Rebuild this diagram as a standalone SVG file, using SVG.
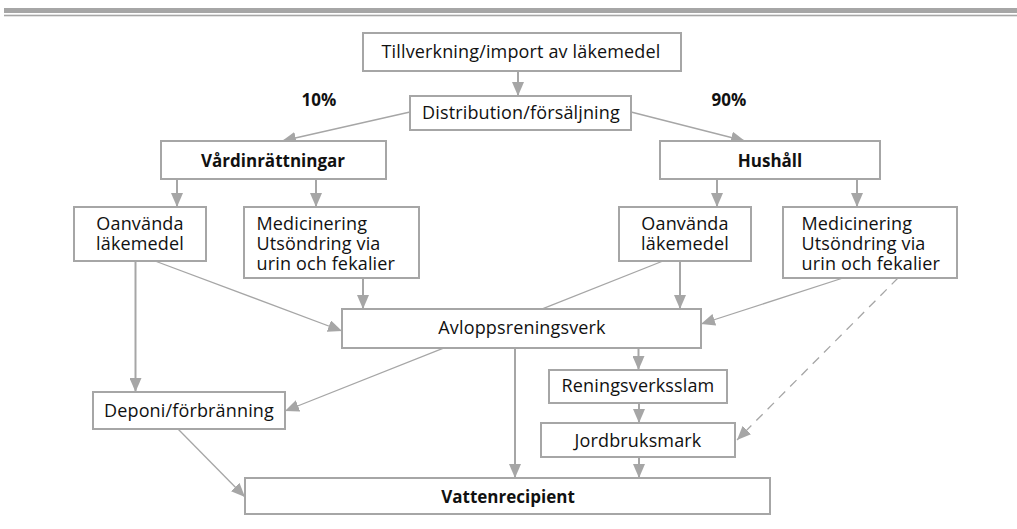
<svg xmlns="http://www.w3.org/2000/svg" width="1017" height="529" viewBox="0 0 1017 529">
<style>
.box{fill:#fff;stroke:#a6a6a6;stroke-width:2}
.t{font-family:"Open Sans","Liberation Sans",sans-serif;font-size:18px;letter-spacing:0.15px;fill:#111}
.c{text-anchor:middle}
.b{font-weight:bold;font-size:17px;letter-spacing:0}
.v{stroke:#a6a6a6;stroke-width:2;fill:none;marker-end:url(#ah)}
.d{stroke:#a6a6a6;stroke-width:1.3;fill:none;marker-end:url(#ah)}
.dash{stroke-dasharray:9 7}
</style>
<defs>
<marker id="ah" markerUnits="userSpaceOnUse" markerWidth="15" markerHeight="12" refX="14" refY="6" orient="auto">
<path d="M0,0 L14,6 L0,12 z" fill="#a6a6a6"/>
</marker>
</defs>
<rect x="4" y="8" width="1013" height="5" fill="#a6a6a6"/>
<rect x="4" y="14.7" width="1013" height="1.6" fill="#a6a6a6"/>

<g id="connectors">
<line class="v" x1="518" y1="71" x2="518" y2="96"/>
<line class="d" x1="410" y1="112" x2="282" y2="141"/>
<line class="d" x1="631" y1="112" x2="745" y2="141"/>
<line class="v" x1="177" y1="179" x2="177" y2="207"/>
<line class="v" x1="316" y1="179" x2="316" y2="207"/>
<line class="v" x1="717" y1="179" x2="717" y2="207"/>
<line class="v" x1="857" y1="179" x2="857" y2="207"/>
<line class="v" x1="363" y1="278" x2="363" y2="309"/>
<line class="d" x1="155" y1="261" x2="342" y2="331"/>
<line class="v" x1="135.5" y1="261" x2="135.5" y2="392"/>
<line class="v" x1="680" y1="261" x2="680" y2="309"/>
<line class="d" x1="663" y1="261" x2="285" y2="411"/>
<line class="d" x1="843" y1="278" x2="701" y2="324"/>
<line class="d dash" x1="898" y1="278" x2="737" y2="440"/>
<line class="v" x1="515" y1="348" x2="515" y2="478"/>
<line class="v" x1="638.5" y1="348" x2="638.5" y2="370"/>
<line class="v" x1="639" y1="403" x2="639" y2="423"/>
<line class="v" x1="639" y1="457" x2="639" y2="478"/>
<line class="d" x1="178" y1="429" x2="245" y2="497"/>
</g>

<g id="tillverkning"><rect class="box" x="363" y="33" width="318" height="38"/><text class="t c" x="521" y="57.5">Tillverkning/import av läkemedel</text></g>
<g id="distribution"><rect class="box" x="410" y="96" width="221" height="34"/><text class="t c" x="521" y="118.5">Distribution/försäljning</text></g>
<g id="p10"><text class="t c b" x="319" y="106">10%</text></g>
<g id="p90"><text class="t c b" x="729" y="106">90%</text></g>
<g id="vard"><rect class="box" x="161" y="141" width="225" height="38"/><text class="t c b" x="273" y="166.5">Vårdinrättningar</text></g>
<g id="hushall"><rect class="box" x="660" y="141" width="220" height="38"/><text class="t c b" x="770" y="166.5">Hushåll</text></g>
<g id="oanvanda1"><rect class="box" x="74" y="207" width="132" height="54"/><text class="t c" x="140" y="230">Oanvända</text><text class="t c" x="140" y="250">läkemedel</text></g>
<g id="medicinering1"><rect class="box" x="244" y="207" width="175" height="71"/><text class="t" x="256.5" y="230">Medicinering</text><text class="t" x="256.5" y="250">Utsöndring via</text><text class="t" x="256.5" y="270">urin och fekalier</text></g>
<g id="oanvanda2"><rect class="box" x="619" y="207" width="132" height="54"/><text class="t c" x="685" y="230">Oanvända</text><text class="t c" x="685" y="250">läkemedel</text></g>
<g id="medicinering2"><rect class="box" x="783" y="207" width="174" height="71"/><text class="t" x="801.5" y="230">Medicinering</text><text class="t" x="801.5" y="250">Utsöndring via</text><text class="t" x="801.5" y="270">urin och fekalier</text></g>
<g id="avlopp"><rect class="box" x="342" y="309" width="359" height="39"/><text class="t c" x="522" y="333.5">Avloppsreningsverk</text></g>
<g id="deponi"><rect class="box" x="93" y="392" width="192" height="37"/><text class="t c" x="189" y="417">Deponi/förbränning</text></g>
<g id="slam"><rect class="box" x="549" y="370" width="178" height="33"/><text class="t c" x="638" y="392">Reningsverksslam</text></g>
<g id="jordbruk"><rect class="box" x="541" y="423" width="194" height="34"/><text class="t c" x="638" y="447">Jordbruksmark</text></g>
<g id="vatten"><rect class="box" x="245" y="478" width="525" height="36"/><text class="t c b" x="508" y="502.5">Vattenrecipient</text></g>
</svg>
